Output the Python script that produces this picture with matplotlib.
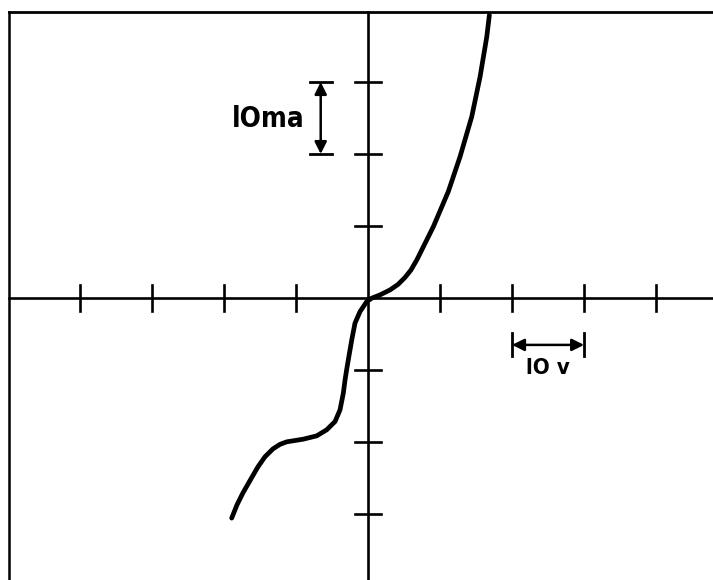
import matplotlib.pyplot as plt

# I-V trace, volts vs milliamps
volts = [-18.93, -18.19, -17.36, -16.25, -15.28, -14.31, -13.19, -12.22,
         -11.29, -8.99, -7.13, -5.74, -4.58, -3.89, -3.43, -3.19, -2.96,
         -2.74, -2.26, -1.81, -1.11, -0.18, 0.51, 1.67, 3.06, 4.17, 5.14,
         5.97, 6.81, 9.07, 11.15, 12.78, 14.40, 15.56, 16.49, 16.85]
milliamps = [-30.6, -28.75, -27.08, -25.14, -23.47, -22.08, -20.97, -20.35,
             -20.0, -19.63, -19.17, -18.33, -17.18, -15.56, -13.24, -11.39,
             -9.93, -8.61, -5.83, -3.51, -1.9, -0.51, -0.04, 0.42, 1.11,
             1.88, 2.85, 3.89, 5.35, 9.9, 14.79, 19.63, 25.18, 30.74, 36.29,
             39.31]

x_ticks = [-40, -30, -20, -10, 10, 20, 30, 40]
y_ticks = [-30, -20, -10, 10, 20, 30]

frame_left = -49.9
frame_top = 39.7

fig = plt.figure(figsize=(7.13, 5.80), dpi=100)
ax = fig.add_axes([0, 0, 1, 1])
ax.set_xlim(-51.1, 47.9)
ax.set_ylim(-39.2, 41.4)
ax.axis('off')

k = 'black'
# frame (top and left only)
ax.plot([frame_left, 48], [frame_top, frame_top], color=k, lw=2.0)
ax.plot([frame_left, frame_left], [frame_top, -40], color=k, lw=1.8)

# axes through the origin
ax.plot([frame_left, 48], [0, 0], color=k, lw=1.9)
ax.plot([0, 0], [frame_top, -40], color=k, lw=1.9)

# cross ticks
for t in x_ticks:
    ax.plot([t, t], [-1.8, 1.8], color=k, lw=1.9)
for t in y_ticks:
    ax.plot([-1.75, 1.75], [t, t], color=k, lw=1.9)

ax.plot(volts, milliamps, color=k, lw=3.4, solid_capstyle='round',
        solid_joinstyle='round')

# 10 ma scale bar
bx = -6.57
ax.plot([bx - 1.5, bx + 1.5], [30, 30], color=k, lw=2.0)
ax.plot([bx - 1.5, bx + 1.5], [20, 20], color=k, lw=2.0)
ax.annotate('', xy=(bx, 30), xytext=(bx, 20),
            arrowprops=dict(arrowstyle='<|-|>', color=k, lw=1.8,
                            mutation_scale=18, shrinkA=0, shrinkB=0))
ax.text(-13.9, 24.8, 'lOma', fontsize=20, ha='center', va='center',
        family='DejaVu Sans', fontstretch='condensed', fontweight='bold')

# 10 v scale bar
by = -6.53
ax.plot([20, 20], [by - 1.6, by + 1.6], color=k, lw=2.0)
ax.plot([30, 30], [by - 1.6, by + 1.6], color=k, lw=2.0)
ax.annotate('', xy=(20, by), xytext=(30, by),
            arrowprops=dict(arrowstyle='<|-|>', color=k, lw=1.8,
                            mutation_scale=18, shrinkA=0, shrinkB=0))
ax.text(25, -9.7, 'lO v', fontsize=16, ha='center', va='center',
        family='DejaVu Sans', fontstretch='condensed', fontweight='bold')

fig.savefig('out.png', dpi=100)
